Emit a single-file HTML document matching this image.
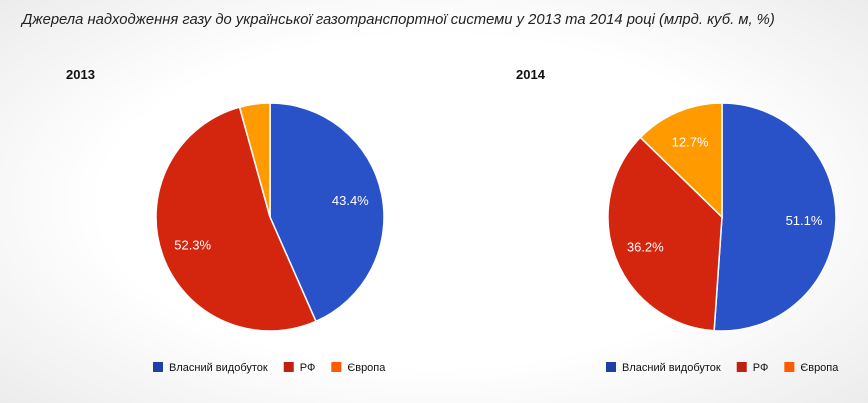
<!DOCTYPE html>
<html><head><meta charset="utf-8"><style>
body{margin:0;width:868px;height:403px;overflow:hidden;font-family:"Liberation Sans",sans-serif;
background:radial-gradient(ellipse 70% 75% at 50% 50%,#ffffff 55%,#ebebeb 100%);}
</style></head><body>
<svg id="c" width="868" height="403" style="position:absolute;left:0;top:0">
<text x="22" y="24" font-size="14.8" font-style="italic" fill="#222" font-family="'Liberation Sans','DejaVu Sans',sans-serif">Джерела надходження газу до української газотранспортної системи у 2013 та 2014 році (млрд. куб. м, %)</text>
</svg>
<script>
const years=["2013","2014"];
const categories=["Власний видобуток","РФ","Європа"];
const values2013=[43.4,52.3,4.3];
const values2014=[51.1,36.2,12.7];
const colors=["#2a52c8","#d4260f","#ff9a00"];
const legendColors=["#1f3fa8","#c0200f","#ff5a00"];
const svg=document.getElementById('c');
const NS="http://www.w3.org/2000/svg";
function mk(t,a){const e=document.createElementNS(NS,t);for(const k in a)e.setAttribute(k,a[k]);svg.appendChild(e);return e;}
const pies=[{cx:270,cy:217,r:114,tx:66,lx:153,vals:values2013},{cx:722,cy:217,r:114,tx:516,lx:606,vals:values2014}];
pies.forEach((p,pi)=>{
  const t=mk('text',{x:p.tx,y:79,'font-size':13,'font-weight':'bold',fill:'#111'});t.textContent=years[pi];
  
  
  const tot=p.vals.reduce((a,b)=>a+b,0);let a0=0;
  p.vals.forEach((v,i)=>{
    const a1=a0+v/tot*2*Math.PI;
    const x0=p.cx+p.r*Math.sin(a0),y0=p.cy-p.r*Math.cos(a0),x1=p.cx+p.r*Math.sin(a1),y1=p.cy-p.r*Math.cos(a1);
    const large=(a1-a0)>Math.PI?1:0;
    const s=mk('path',{d:`M${p.cx},${p.cy}L${x0},${y0}A${p.r},${p.r} 0 ${large} 1 ${x1},${y1}Z`,fill:colors[i],stroke:'#fff','stroke-width':1.5});
    
    
    if(v/tot>0.06){const m=(a0+a1)/2;
      const l=mk('text',{x:p.cx+0.72*p.r*Math.sin(m),y:p.cy-0.72*p.r*Math.cos(m)+5,'font-size':13,fill:'#fff','text-anchor':'middle'});
      l.textContent=v.toFixed(1)+'%';
      
      }
    a0=a1;
  });
  let x=p.lx;
  categories.forEach((c,i)=>{
    const r=mk('rect',{x:x,y:362,width:10,height:10,fill:legendColors[i]});
    
    
    const tx=mk('text',{x:x+16,y:371,'font-size':11,fill:'#111'});tx.textContent=c;
    
    
    x+=16+tx.getComputedTextLength()+16;
  });
});
</script>
</body></html>
